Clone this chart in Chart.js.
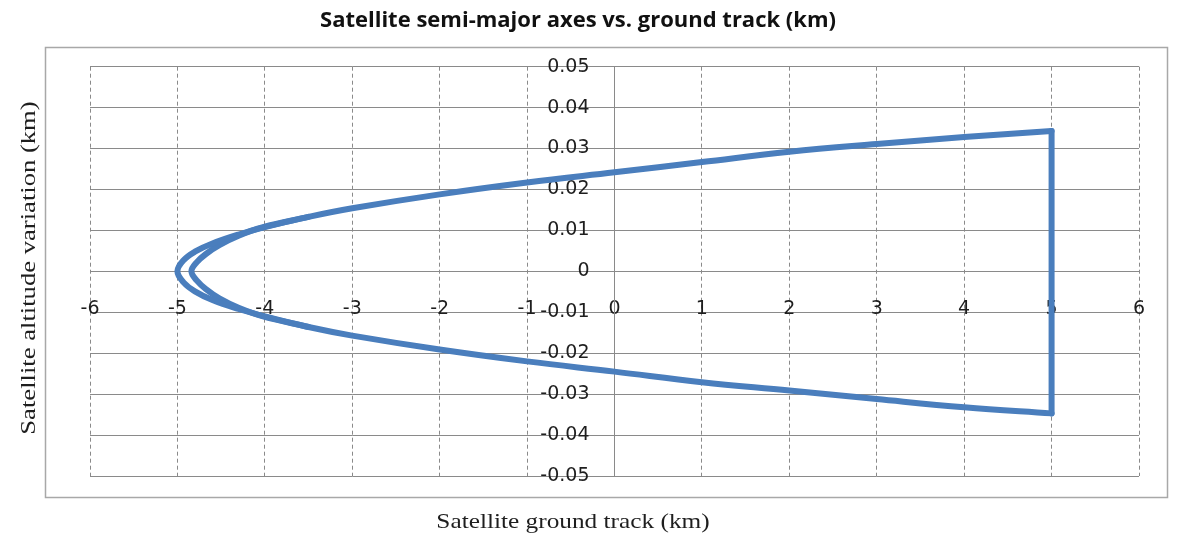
<!DOCTYPE html>
<html>
<head>
<meta charset="utf-8">
<script src="https://cdn.jsdelivr.net/npm/chart.js@4/dist/chart.umd.min.js"></script>
<style>
  html, body { margin: 0; padding: 0; background: #ffffff; }
  #wrap { width: 1187px; height: 540px; }
</style>
</head>
<body>
<div id="wrap"><canvas id="c" width="1187" height="540"></canvas></div>
<script>
// ---- data ----
const chartTitle = 'Satellite semi-major axes vs. ground track (km)';
const xTitle = 'Satellite ground track (km)';
const yTitle = 'Satellite altitude variation (km)';

// first pass: upper branch from the right edge to the tip, then lower branch back
const trackOuter = [5, 4, 3, 2, 1, 0, -1, -2, -3, -3.5, -4, -4.3, -4.6, -4.8, -4.93, -5,
                    -4.93, -4.8, -4.6, -4.3, -4, -3.5, -3, -2, -1, 0, 1, 2, 3, 4, 5];
const altOuter = [0.0343, 0.0328, 0.0311, 0.0292, 0.0267, 0.0242, 0.0217, 0.0188, 0.0154, 0.0133, 0.0108, 0.0090, 0.0068, 0.0048, 0.0027, 0,
                  -0.0027, -0.0049, -0.0070, -0.0092, -0.0110, -0.0136, -0.0157, -0.0191, -0.0220, -0.0245, -0.0271, -0.0291, -0.0312, -0.0332, -0.0347];

// second pass near the tip (coincides with the first pass further right)
const trackInner = [-3.5, -4.02, -4.3, -4.52, -4.67, -4.78, -4.84, -4.78, -4.67, -4.52, -4.3, -4.02, -3.5];
const altInner = [0.0133, 0.0108, 0.0087, 0.0064, 0.0043, 0.0022, 0, -0.0022, -0.0044, -0.0066, -0.0089, -0.0110, -0.0136];

// vertical closing segment at the right edge
const trackEdge = [5, 5];
const altEdge = [-0.0347, 0.0343];

const xTickValues = [-6, -5, -4, -3, -2, -1, 0, 1, 2, 3, 4, 5, 6];
const yTickValues = [-0.05, -0.04, -0.03, -0.02, -0.01, 0, 0.01, 0.02, 0.03, 0.04, 0.05];
const yTickLabels = ['-0.05', '-0.04', '-0.03', '-0.02', '-0.01', '0', '0.01', '0.02', '0.03', '0.04', '0.05'];

// ---- helpers ----
function pts(xs, ys) { return xs.map((x, i) => ({ x: x, y: ys[i] })); }

const lineColor = '#4a7ebd';
const gridColor = '#8a8a8a';
const tickFont = '19px "DejaVu Sans"';
const textColor = '#1e1e1e';

function stretchedText(ctx, text, x, y, sx, rot) {
  ctx.save();
  ctx.translate(x, y);
  if (rot) ctx.rotate(rot);
  ctx.scale(sx, 1);
  ctx.fillText(text, 0, 0);
  ctx.restore();
}

const decorPlugin = {
  id: 'decor',
  beforeDraw(chart) {
    const ctx = chart.ctx;
    ctx.save();
    ctx.fillStyle = '#ffffff';
    ctx.fillRect(0, 0, chart.width, chart.height);
    ctx.strokeStyle = '#a8a8a8';
    ctx.lineWidth = 1.5;
    ctx.strokeRect(45.5, 47.5, 1122, 450);
    // titles
    ctx.fillStyle = '#111111';
    ctx.textAlign = 'center';
    ctx.textBaseline = 'middle';
    ctx.font = 'bold 22px "Open Sans"';
    stretchedText(ctx, chartTitle, 578, 21, 1, 0);
    ctx.fillStyle = textColor;
    ctx.font = '22px "Liberation Serif"';
    stretchedText(ctx, xTitle, 573, 522, 1.15, 0);
    stretchedText(ctx, yTitle, 29, 268, 1.21, -Math.PI / 2);
    ctx.restore();
  },
  beforeDatasetsDraw(chart) {
    // y tick labels placed to the left of the vertical axis (which crosses at x = 0)
    const ctx = chart.ctx;
    const xs = chart.scales.x, ys = chart.scales.y;
    const axisX = xs.getPixelForValue(0);
    ctx.save();
    ctx.fillStyle = textColor;
    ctx.font = tickFont;
    ctx.textAlign = 'right';
    ctx.textBaseline = 'middle';
    yTickValues.forEach((v, i) => {
      ctx.fillText(yTickLabels[i], axisX - 25, ys.getPixelForValue(v));
    });
    ctx.restore();
  }
};

const lineStyle = { showLine: true, borderColor: lineColor, borderWidth: 6, pointRadius: 0, borderCapStyle: 'round', borderJoinStyle: 'round' };

new Chart(document.getElementById('c'), {
  type: 'scatter',
  data: {
    datasets: [
      Object.assign({ data: pts(trackOuter, altOuter), tension: 0.4 }, lineStyle),
      Object.assign({ data: pts(trackInner, altInner), tension: 0.4 }, lineStyle),
      Object.assign({ data: pts(trackEdge, altEdge), tension: 0 }, lineStyle)
    ]
  },
  options: {
    responsive: false,
    animation: false,
    events: [],
    layout: { padding: { left: 90, right: 48, top: 66.7, bottom: 64 } },
    plugins: {
      legend: { display: false },
      tooltip: { enabled: false },
      title: { display: false }
    },
    scales: {
      x: {
        type: 'linear',
        position: { y: 0 },
        min: -6, max: 6,
        afterBuildTicks(scale) { scale.ticks = xTickValues.map(v => ({ value: v })); },
        ticks: { color: textColor, font: { family: '"DejaVu Sans"', size: 19 }, padding: 26, maxRotation: 0, autoSkip: false, callback: v => String(v) },
        grid: { color: gridColor, lineWidth: 1, drawTicks: false },
        border: { display: true, color: gridColor, width: 1, dash: [4, 3] }
      },
      y: {
        type: 'linear',
        position: { x: 0 },
        min: -0.05, max: 0.05,
        afterBuildTicks(scale) { scale.ticks = yTickValues.map(v => ({ value: v })); },
        ticks: { display: false },
        grid: { color: gridColor, lineWidth: 1, drawTicks: false },
        border: { display: true, color: gridColor, width: 1 }
      }
    }
  },
  plugins: [decorPlugin]
});
</script>
</body>
</html>
